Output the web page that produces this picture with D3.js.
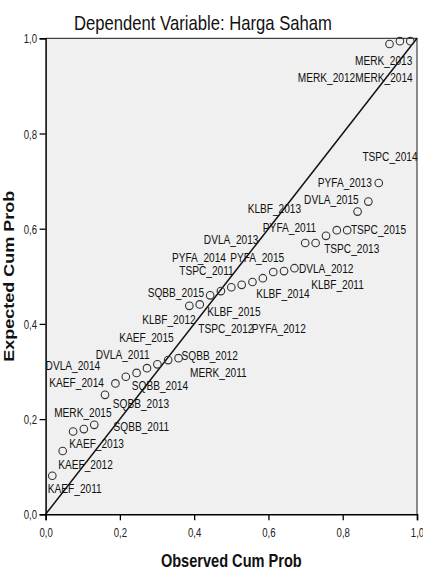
<!DOCTYPE html>
<html>
<head>
<meta charset="utf-8">
<script src="https://cdn.jsdelivr.net/npm/d3@7"></script>
<style>
  body { margin: 0; background: #fff; }
  svg { display: block; }
</style>
</head>
<body>
<svg id="chart" width="423" height="578"></svg>
<script>
// observed vs expected cumulative probability, sorted by observed
const observed = [0.018, 0.046, 0.074, 0.103, 0.131, 0.160, 0.188, 0.216, 0.245, 0.273,
    0.301, 0.330, 0.358, 0.387, 0.415, 0.443, 0.472, 0.500, 0.528, 0.557,
    0.585, 0.613, 0.642, 0.670, 0.699, 0.727, 0.755, 0.784, 0.812, 0.840,
    0.869, 0.897, 0.926, 0.954, 0.982];
const expected = [0.081, 0.133, 0.174, 0.179, 0.188, 0.251, 0.275, 0.289, 0.297, 0.307,
    0.315, 0.324, 0.328, 0.438, 0.441, 0.460, 0.469, 0.477, 0.482, 0.488,
    0.496, 0.509, 0.511, 0.517, 0.570, 0.570, 0.585, 0.597, 0.597, 0.636,
    0.657, 0.696, 0.988, 0.994, 0.994];

// case labels, placed in data units
const labelNames = ["MERK_2013", "MERK_2012", "MERK_2014", "TSPC_2014", "PYFA_2013",
    "DVLA_2015", "KLBF_2013", "PYFA_2011", "TSPC_2015", "TSPC_2013",
    "DVLA_2013", "PYFA_2014", "PYFA_2015", "DVLA_2012", "TSPC_2011",
    "KLBF_2011", "KLBF_2014", "KLBF_2015", "TSPC_2012", "PYFA_2012",
    "SQBB_2012", "MERK_2011", "SQBB_2015", "KLBF_2012", "KAEF_2015",
    "DVLA_2011", "DVLA_2014", "KAEF_2014", "SQBB_2014", "SQBB_2013",
    "MERK_2015", "SQBB_2011", "KAEF_2013", "KAEF_2012", "KAEF_2011"];
const labelX = [0.833, 0.679, 0.834, 0.853, 0.733, 0.696, 0.544, 0.585, 0.822, 0.750,
    0.426, 0.340, 0.497, 0.682, 0.360, 0.715, 0.567, 0.435, 0.411, 0.555,
    0.366, 0.389, 0.275, 0.260, 0.198, 0.135, 0.000, 0.010, 0.232, 0.181,
    0.023, 0.183, 0.064, 0.034, 0.006];
const labelY = [0.944, 0.909, 0.909, 0.742, 0.687, 0.652, 0.632, 0.594, 0.589, 0.550,
    0.568, 0.531, 0.531, 0.507, 0.503, 0.473, 0.454, 0.417, 0.380, 0.380,
    0.324, 0.288, 0.457, 0.400, 0.361, 0.326, 0.303, 0.268, 0.261, 0.223,
    0.205, 0.174, 0.139, 0.095, 0.044];

const tickValues = [0, 0.2, 0.4, 0.6, 0.8, 1.0];
const title = "Dependent Variable: Harga Saham";
const xTitle = "Observed Cum Prob";
const yTitle = "Expected Cum Prob";

const font = "'Liberation Sans', Arial, Helvetica, sans-serif";

const svg = d3.select("#chart");

const plot = { left: 45.6, right: 417, top: 38.3, bottom: 514.3 };

const x = d3.scaleLinear().domain([0, 1]).range([plot.left, plot.right]);
const y = d3.scaleLinear().domain([0, 1]).range([plot.bottom, plot.top]);

const fmt = d => d.toFixed(1).replace(".", ",");

// plot background
svg.append("rect")
    .attr("x", plot.left)
    .attr("y", plot.top)
    .attr("width", plot.right - plot.left)
    .attr("height", plot.bottom - plot.top)
    .attr("fill", "#f0f0f0");

// top and right frame
svg.append("path")
    .attr("d", `M${plot.left},${plot.top}H${plot.right}V${plot.bottom}`)
    .attr("fill", "none")
    .attr("stroke", "#444")
    .attr("stroke-width", 1.2);

// axes
const gx = svg.append("g")
    .attr("transform", `translate(0,${plot.bottom})`)
    .call(d3.axisBottom(x).tickValues(tickValues).tickSize(6).tickFormat(fmt));
gx.select(".domain").attr("stroke", "#000").attr("stroke-width", 1.5);
gx.selectAll(".tick line").attr("stroke", "#000").attr("stroke-width", 1.3);
gx.selectAll(".tick text")
    .attr("y", 0).attr("dy", null)
    .attr("transform", "translate(0,22.5) scale(0.8,1)")
    .attr("font-family", font).attr("font-size", 12).attr("fill", "#222");

const gy = svg.append("g")
    .attr("transform", `translate(${plot.left},0)`)
    .call(d3.axisLeft(y).tickValues(tickValues).tickSize(6).tickFormat(fmt));
gy.select(".domain").attr("stroke", "#000").attr("stroke-width", 1.5);
gy.selectAll(".tick line").attr("stroke", "#000").attr("stroke-width", 1.3);
gy.selectAll(".tick text")
    .attr("x", 0).attr("dy", null)
    .attr("transform", "translate(-8.5,4.5) scale(0.8,1)")
    .attr("font-family", font).attr("font-size", 12).attr("fill", "#222");

// reference diagonal
const [d0, d1] = x.domain();
svg.append("line")
    .attr("x1", x(d0)).attr("y1", y(d0))
    .attr("x2", x(d1)).attr("y2", y(d1))
    .attr("stroke", "#111")
    .attr("stroke-width", 1.5);

// points
const points = observed.map((o, i) => ({ o, e: expected[i] }));
svg.append("g")
    .selectAll("circle")
    .data(points)
    .join("circle")
    .attr("cx", d => x(d.o))
    .attr("cy", d => y(d.e))
    .attr("r", 3.8)
    .attr("fill", "none")
    .attr("stroke", "#333")
    .attr("stroke-width", 1.1);

// case labels
const labels = labelNames.map((name, i) => ({ name, lx: labelX[i], ly: labelY[i] }));
svg.append("g")
    .selectAll("text")
    .data(labels)
    .join("text")
    .attr("transform", d => `translate(${x(d.lx)},${y(d.ly)}) scale(0.78,1)`)
    .attr("font-family", font)
    .attr("font-size", 13)
    .attr("fill", "#111")
    .text(d => d.name);

// titles
svg.append("text")
    .attr("transform", "translate(74,29.5) scale(0.833,1)")
    .attr("font-family", font)
    .attr("font-size", 20)
    .attr("fill", "#111")
    .text(title);

svg.append("text")
    .attr("transform", `translate(${(plot.left + plot.right) / 2},567) scale(0.81,1)`)
    .attr("text-anchor", "middle")
    .attr("font-family", font)
    .attr("font-size", 18)
    .attr("font-weight", "bold")
    .attr("fill", "#111")
    .text(xTitle);

svg.append("text")
    .attr("transform", `translate(14,${(plot.top + plot.bottom) / 2}) scale(0.81,1) rotate(-90)`)
    .attr("text-anchor", "middle")
    .attr("font-family", font)
    .attr("font-size", 18)
    .attr("font-weight", "bold")
    .attr("fill", "#111")
    .text(yTitle);
</script>
</body>
</html>
